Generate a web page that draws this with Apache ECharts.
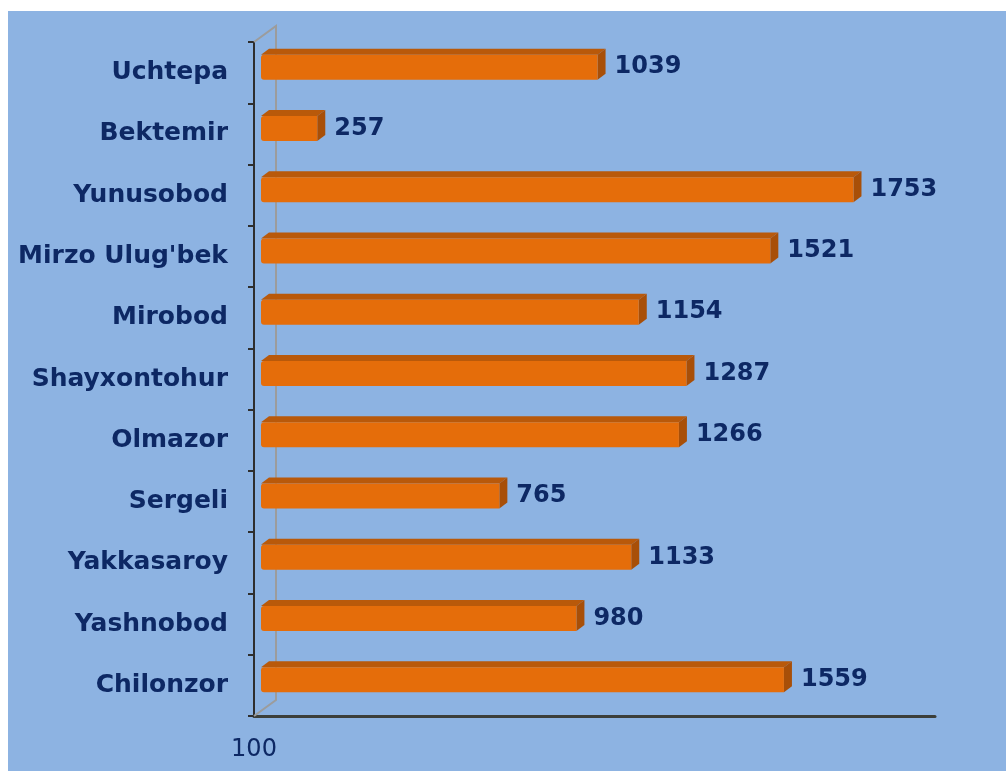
<!DOCTYPE html>
<html>
<head>
<meta charset="utf-8">
<script src="https://cdn.jsdelivr.net/npm/echarts@6/dist/echarts.min.js"></script>
<style>
  html, body { margin: 0; padding: 0; background: #ffffff; }
  #chart { width: 1006px; height: 771px; }
</style>
</head>
<body>
<div id="chart"></div>
<script>
// Districts, top to bottom as drawn
const districts = ['Uchtepa', 'Bektemir', 'Yunusobod', "Mirzo Ulug'bek", 'Mirobod',
  'Shayxontohur', 'Olmazor', 'Sergeli', 'Yakkasaroy', 'Yashnobod', 'Chilonzor'];
const counts = [1039, 257, 1753, 1521, 1154, 1287, 1266, 765, 1133, 980, 1559];
const axisMin = 100;
const axisMax = 2000;

const textColor = '#0d2864';
const frontColor = '#e56d0a';
const topColor = '#b9590a';
const sideColor = '#a84f08';

const chart = echarts.init(document.getElementById('chart'));

// 3D-looking bar: front face, top face and right side face
function renderBar(params, api) {
  const idx = api.value(1);
  const val = api.value(0);
  const start = api.coord([axisMin, idx]);
  const end = api.coord([val, idx]);
  const dx = 8, dy = 6, h = 25;
  const x = start[0] + 7;
  const w = end[0] - start[0];
  const y = start[1] - 5.5 - h / 2;
  return {
    type: 'group',
    children: [
      { type: 'polygon', shape: { points: [[x, y], [x + dx, y - dy], [x + w + dx, y - dy], [x + w, y]] },
        style: { fill: topColor } },
      { type: 'polygon', shape: { points: [[x + w, y], [x + w + dx, y - dy], [x + w + dx, y + h - dy], [x + w, y + h]] },
        style: { fill: sideColor } },
      { type: 'rect', shape: { x: x, y: y, width: w, height: h, r: [3, 0, 0, 3] },
        style: { fill: frontColor } },
      { type: 'text', x: x + w + dx + 9, y: y + h / 2,
        style: { text: String(val), fill: textColor, font: 'bold 24px "DejaVu Sans"',
          verticalAlign: 'middle', align: 'left' } }
    ]
  };
}

chart.setOption({
  backgroundColor: '#ffffff',
  animation: false,
  grid: { left: 254, top: 42, right: 71, bottom: 55 },
  xAxis: {
    type: 'value',
    min: axisMin,
    max: axisMax,
    interval: 1900,
    axisLine: { show: true, lineStyle: { color: '#3c3f3a', width: 3 } },
    axisTick: { show: false },
    splitLine: { show: false },
    axisLabel: {
      margin: 22,
      color: textColor,
      fontFamily: 'DejaVu Sans',
      fontSize: 24,
      formatter: v => (v === axisMin ? String(v) : '')
    }
  },
  yAxis: {
    type: 'category',
    inverse: true,
    data: districts,
    axisLine: { show: true, lineStyle: { color: '#2e2e2e', width: 2 } },
    axisTick: { show: true, length: 6, lineStyle: { color: '#2e2e2e', width: 2 } },
    axisLabel: {
      margin: 26,
      color: textColor,
      fontFamily: 'DejaVu Sans',
      fontWeight: 'bold',
      fontSize: 25
    }
  },
  series: [{
    type: 'custom',
    renderItem: renderBar,
    encode: { x: 0, y: 1 },
    data: counts.map((v, i) => [v, i]),
    z: 5
  }]
});

// back wall outline of the 3D plot area
const yAt = i => chart.convertToPixel({ yAxisIndex: 0 }, i);
const half = (yAt(1) - yAt(0)) / 2;
const wallX = chart.convertToPixel({ xAxisIndex: 0 }, axisMin);
const topY = yAt(0) - half;
const bottomY = yAt(districts.length - 1) + half;
const wx = 22, wy = 16;
chart.setOption({
  graphic: [
    { type: 'rect', z: -10, shape: { x: 8, y: 11, width: 998, height: 760 },
      style: { fill: '#8db3e2' } },
    { type: 'polyline', z: 1,
      shape: { points: [[wallX, bottomY], [wallX + wx, bottomY - wy], [wallX + wx, topY - wy], [wallX, topY]] },
      style: { stroke: '#9c9c9c', lineWidth: 2, fill: null } }
  ]
});
</script>
</body>
</html>
